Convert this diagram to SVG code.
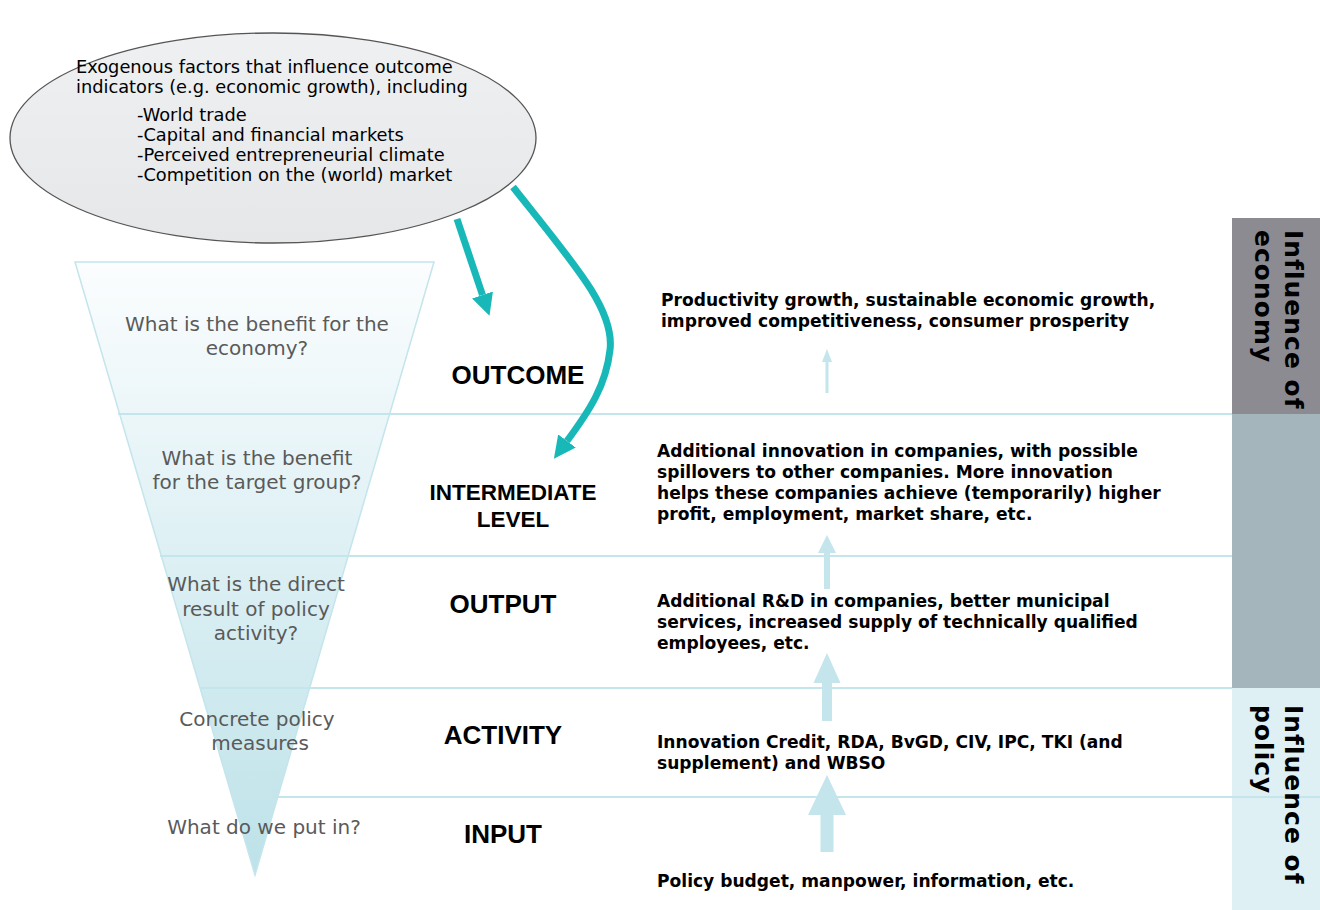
<svg xmlns="http://www.w3.org/2000/svg" width="1320" height="910" viewBox="0 0 1320 910">
<defs>
<linearGradient id="funnelGrad" x1="0" y1="0" x2="0" y2="1">
<stop offset="0" stop-color="#fbfdfe"/>
<stop offset="1" stop-color="#bde2e9"/>
</linearGradient>
<linearGradient id="ellGrad" x1="0" y1="0" x2="0" y2="1">
<stop offset="0" stop-color="#eef0f2"/>
<stop offset="1" stop-color="#e6e7e9"/>
</linearGradient>
<marker id="tealHead" markerUnits="userSpaceOnUse" markerWidth="22" markerHeight="22" viewBox="0 0 22 22" refX="0" refY="11" orient="auto">
<path d="M0,0 L22,11 L0,22 Z" fill="#19b8b8"/>
</marker>
</defs>
<style>
.funnelTxt{font-family:"DejaVu Sans",Verdana,sans-serif;font-size:20px;fill:#5a5a5a;text-anchor:middle}
.lvl{font-family:"Liberation Sans",Arial,sans-serif;font-weight:bold;font-size:26px;fill:#000;text-anchor:middle}
.desc{font-family:"DejaVu Sans",Verdana,sans-serif;font-weight:bold;font-size:17.1px;fill:#000}
.ellTxt{font-family:"DejaVu Sans",Verdana,sans-serif;font-size:17.8px;fill:#000}
.band{font-family:"DejaVu Sans",Verdana,sans-serif;font-weight:bold;font-size:25px;letter-spacing:1px;fill:#000}
.sep{stroke:#c3e5eb;stroke-width:2;fill:none}
.up{fill:#c3e5eb}
.teal{stroke:#19b8b8;stroke-width:7;fill:none}
</style>
<rect width="1320" height="910" fill="#ffffff"/>

<g id="funnel">
<polygon points="75,262 434,262 255,875" fill="url(#funnelGrad)" stroke="#c3e5eb" stroke-width="1.5"/>
</g>

<g id="band-economy">
<rect x="1232" y="218" width="88" height="196" fill="#8b8b91"/>
<text class="band" transform="translate(1285,230) rotate(90)"><tspan x="0" y="0">Influence of</tspan><tspan x="0" dy="30">economy</tspan></text>
</g>
<g id="band-mid">
<rect x="1232" y="414" width="88" height="274" fill="#a4b6bb"/>
</g>
<g id="band-policy">
<rect x="1232" y="688" width="88" height="222" fill="#dff0f4"/>
</g>

<g id="separators">
<line class="sep" x1="118" y1="414" x2="1232" y2="414"/>
<line class="sep" x1="160" y1="556" x2="1232" y2="556"/>
<line class="sep" x1="200" y1="688" x2="1232" y2="688"/>
<line class="sep" x1="278" y1="797" x2="1320" y2="797"/>
</g>

<g id="band-policy-label">
<text class="band" transform="translate(1285,705) rotate(90)"><tspan x="0" y="0">Influence of</tspan><tspan x="0" dy="30">policy</tspan></text>
</g>

<g id="exogenous">
<ellipse cx="273" cy="138" rx="263" ry="105" fill="url(#ellGrad)" stroke="#555" stroke-width="1.3"/>
<text class="ellTxt"><tspan x="76" y="73">Exogenous factors that influence outcome</tspan><tspan x="76" y="93">indicators (e.g. economic growth), including</tspan><tspan x="137" y="121">-World trade</tspan><tspan x="137" y="141">-Capital and financial markets</tspan><tspan x="137" y="161">-Perceived entrepreneurial climate</tspan><tspan x="137" y="181">-Competition on the (world) market</tspan></text>
</g>

<g id="q-outcome"><text class="funnelTxt"><tspan x="257" y="331">What is the benefit for the</tspan><tspan x="257" y="355">economy?</tspan></text></g>
<g id="q-intermediate"><text class="funnelTxt"><tspan x="257" y="465">What is the benefit</tspan><tspan x="257" y="489">for the target group?</tspan></text></g>
<g id="q-output"><text class="funnelTxt"><tspan x="256" y="591">What is the direct</tspan><tspan x="256" y="616">result of policy</tspan><tspan x="256" y="640">activity?</tspan></text></g>
<g id="q-activity"><text class="funnelTxt"><tspan x="257" y="726">Concrete policy</tspan><tspan x="260" y="750">measures</tspan></text></g>
<g id="q-input"><text class="funnelTxt"><tspan x="264" y="834">What do we put in?</tspan></text></g>

<g id="lvl-outcome"><text class="lvl" x="518" y="384">OUTCOME</text></g>
<g id="lvl-intermediate"><text class="lvl" style="font-size:22.5px" x="513" y="500">INTERMEDIATE</text><text class="lvl" style="font-size:22.5px" x="513" y="527">LEVEL</text></g>
<g id="lvl-output"><text class="lvl" x="503" y="613">OUTPUT</text></g>
<g id="lvl-activity"><text class="lvl" x="503" y="744">ACTIVITY</text></g>
<g id="lvl-input"><text class="lvl" x="503" y="843">INPUT</text></g>

<g id="d-outcome"><text class="desc"><tspan x="661" y="306">Productivity growth, sustainable economic growth,</tspan><tspan x="661" y="327">improved competitiveness, consumer prosperity</tspan></text></g>
<g id="d-intermediate"><text class="desc"><tspan x="657" y="457">Additional innovation in companies, with possible</tspan><tspan x="657" y="478">spillovers to other companies. More innovation</tspan><tspan x="657" y="499">helps these companies achieve (temporarily) higher</tspan><tspan x="657" y="520">profit, employment, market share, etc.</tspan></text></g>
<g id="d-output"><text class="desc"><tspan x="657" y="607">Additional R&amp;D in companies, better municipal</tspan><tspan x="657" y="628">services, increased supply of technically qualified</tspan><tspan x="657" y="649">employees, etc.</tspan></text></g>
<g id="d-activity"><text class="desc"><tspan x="657" y="748">Innovation Credit, RDA, BvGD, CIV, IPC, TKI (and</tspan><tspan x="657" y="769">supplement) and WBSO</tspan></text></g>
<g id="d-input"><text class="desc"><tspan x="657" y="887">Policy budget, manpower, information, etc.</tspan></text></g>

<g id="connectors">
<polygon class="up" points="825.5,393 825.5,362 822,362 827,349 832,362 828.5,362 828.5,393"/>
<polygon class="up" points="824,589 824,553 818,553 827,535 836,553 830,553 830,589"/>
<polygon class="up" points="822,721 822,683 813.5,683 827,653 840.5,683 832,683 832,721"/>
<polygon class="up" points="820.5,852 820.5,815 808,815 827,775 846,815 833.5,815 833.5,852"/>
<path class="teal" d="M457,219 L482.5,295" marker-end="url(#tealHead)"/>
<path class="teal" d="M513,187 C575,265 615,310 610,350 C606,385 590,410 567,441" marker-end="url(#tealHead)"/>
</g>
</svg>
